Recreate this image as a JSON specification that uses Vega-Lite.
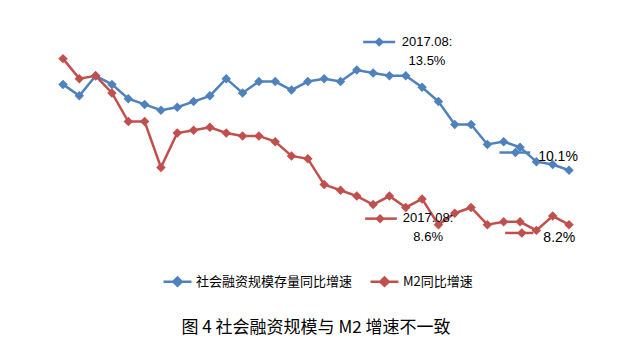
{
  "$schema": "https://vega.github.io/schema/vega-lite/v6.json",
  "width": 506,
  "height": 229,
  "autosize": {"type": "none"},
  "padding": {"left": 63, "top": 30, "right": 70, "bottom": 94},
  "background": "white",
  "config": {"view": {"stroke": null}, "font": "Liberation Sans"},
  "title": {"text": "图 4  社会融资规模与 M2 增速不一致", "orient": "bottom", "anchor": "middle", "font": "Noto Sans CJK SC", "fontSize": 17, "fontWeight": "normal", "color": "#000000", "offset": 29, "frame": "group"},
  "datasets": {
    "series": [
      {"i": 0, "date": "2016.01", "series": "社会融资规模存量同比增速", "value": 13.1},
      {"i": 1, "date": "2016.02", "series": "社会融资规模存量同比增速", "value": 12.7},
      {"i": 2, "date": "2016.03", "series": "社会融资规模存量同比增速", "value": 13.4},
      {"i": 3, "date": "2016.04", "series": "社会融资规模存量同比增速", "value": 13.1},
      {"i": 4, "date": "2016.05", "series": "社会融资规模存量同比增速", "value": 12.6},
      {"i": 5, "date": "2016.06", "series": "社会融资规模存量同比增速", "value": 12.4},
      {"i": 6, "date": "2016.07", "series": "社会融资规模存量同比增速", "value": 12.2},
      {"i": 7, "date": "2016.08", "series": "社会融资规模存量同比增速", "value": 12.3},
      {"i": 8, "date": "2016.09", "series": "社会融资规模存量同比增速", "value": 12.5},
      {"i": 9, "date": "2016.10", "series": "社会融资规模存量同比增速", "value": 12.7},
      {"i": 10, "date": "2016.11", "series": "社会融资规模存量同比增速", "value": 13.3},
      {"i": 11, "date": "2016.12", "series": "社会融资规模存量同比增速", "value": 12.8},
      {"i": 12, "date": "2017.01", "series": "社会融资规模存量同比增速", "value": 13.2},
      {"i": 13, "date": "2017.02", "series": "社会融资规模存量同比增速", "value": 13.2},
      {"i": 14, "date": "2017.03", "series": "社会融资规模存量同比增速", "value": 12.9},
      {"i": 15, "date": "2017.04", "series": "社会融资规模存量同比增速", "value": 13.2},
      {"i": 16, "date": "2017.05", "series": "社会融资规模存量同比增速", "value": 13.3},
      {"i": 17, "date": "2017.06", "series": "社会融资规模存量同比增速", "value": 13.2},
      {"i": 18, "date": "2017.07", "series": "社会融资规模存量同比增速", "value": 13.6},
      {"i": 19, "date": "2017.08", "series": "社会融资规模存量同比增速", "value": 13.5},
      {"i": 20, "date": "2017.09", "series": "社会融资规模存量同比增速", "value": 13.4},
      {"i": 21, "date": "2017.10", "series": "社会融资规模存量同比增速", "value": 13.4},
      {"i": 22, "date": "2017.11", "series": "社会融资规模存量同比增速", "value": 13.0},
      {"i": 23, "date": "2017.12", "series": "社会融资规模存量同比增速", "value": 12.5},
      {"i": 24, "date": "2018.01", "series": "社会融资规模存量同比增速", "value": 11.7},
      {"i": 25, "date": "2018.02", "series": "社会融资规模存量同比增速", "value": 11.7},
      {"i": 26, "date": "2018.03", "series": "社会融资规模存量同比增速", "value": 11.0},
      {"i": 27, "date": "2018.04", "series": "社会融资规模存量同比增速", "value": 11.1},
      {"i": 28, "date": "2018.05", "series": "社会融资规模存量同比增速", "value": 10.9},
      {"i": 29, "date": "2018.06", "series": "社会融资规模存量同比增速", "value": 10.4},
      {"i": 30, "date": "2018.07", "series": "社会融资规模存量同比增速", "value": 10.3},
      {"i": 31, "date": "2018.08", "series": "社会融资规模存量同比增速", "value": 10.1},
      {"i": 0, "date": "2016.01", "series": "M2同比增速", "value": 14.0},
      {"i": 1, "date": "2016.02", "series": "M2同比增速", "value": 13.3},
      {"i": 2, "date": "2016.03", "series": "M2同比增速", "value": 13.4},
      {"i": 3, "date": "2016.04", "series": "M2同比增速", "value": 12.8},
      {"i": 4, "date": "2016.05", "series": "M2同比增速", "value": 11.8},
      {"i": 5, "date": "2016.06", "series": "M2同比增速", "value": 11.8},
      {"i": 6, "date": "2016.07", "series": "M2同比增速", "value": 10.2},
      {"i": 7, "date": "2016.08", "series": "M2同比增速", "value": 11.4},
      {"i": 8, "date": "2016.09", "series": "M2同比增速", "value": 11.5},
      {"i": 9, "date": "2016.10", "series": "M2同比增速", "value": 11.6},
      {"i": 10, "date": "2016.11", "series": "M2同比增速", "value": 11.4},
      {"i": 11, "date": "2016.12", "series": "M2同比增速", "value": 11.3},
      {"i": 12, "date": "2017.01", "series": "M2同比增速", "value": 11.3},
      {"i": 13, "date": "2017.02", "series": "M2同比增速", "value": 11.1},
      {"i": 14, "date": "2017.03", "series": "M2同比增速", "value": 10.6},
      {"i": 15, "date": "2017.04", "series": "M2同比增速", "value": 10.5},
      {"i": 16, "date": "2017.05", "series": "M2同比增速", "value": 9.6},
      {"i": 17, "date": "2017.06", "series": "M2同比增速", "value": 9.4},
      {"i": 18, "date": "2017.07", "series": "M2同比增速", "value": 9.2},
      {"i": 19, "date": "2017.08", "series": "M2同比增速", "value": 8.9},
      {"i": 20, "date": "2017.09", "series": "M2同比增速", "value": 9.2},
      {"i": 21, "date": "2017.10", "series": "M2同比增速", "value": 8.8},
      {"i": 22, "date": "2017.11", "series": "M2同比增速", "value": 9.1},
      {"i": 23, "date": "2017.12", "series": "M2同比增速", "value": 8.2},
      {"i": 24, "date": "2018.01", "series": "M2同比增速", "value": 8.6},
      {"i": 25, "date": "2018.02", "series": "M2同比增速", "value": 8.8},
      {"i": 26, "date": "2018.03", "series": "M2同比增速", "value": 8.2},
      {"i": 27, "date": "2018.04", "series": "M2同比增速", "value": 8.3},
      {"i": 28, "date": "2018.05", "series": "M2同比增速", "value": 8.3},
      {"i": 29, "date": "2018.06", "series": "M2同比增速", "value": 8.0},
      {"i": 30, "date": "2018.07", "series": "M2同比增速", "value": 8.5},
      {"i": 31, "date": "2018.08", "series": "M2同比增速", "value": 8.2}
    ],
    "keys": [
      {"series": "社会融资规模存量同比增速", "x1": 18.39, "x2": 20.35, "xk": 19.37, "y": 14.58},
      {"series": "M2同比增速", "x1": 18.51, "x2": 20.45, "xk": 19.43, "y": 8.41},
      {"series": "社会融资规模存量同比增速", "x1": 26.74, "x2": 28.62, "xk": 27.72, "y": 10.72},
      {"series": "M2同比增速", "x1": 27.09, "x2": 28.82, "xk": 28.11, "y": 7.91}
    ],
    "labels": [
      {"kind": "date", "label": "2017.08:", "x": 22.3, "y": 14.57},
      {"kind": "date", "label": "13.5%", "x": 22.3, "y": 13.92},
      {"kind": "date", "label": "2017.08:", "x": 22.37, "y": 8.42},
      {"kind": "date", "label": "8.6%", "x": 22.37, "y": 7.77},
      {"kind": "end", "label": "10.1%", "x": 29.11, "y": 10.56},
      {"kind": "end", "label": "8.2%", "x": 29.43, "y": 7.75}
    ]
  },
  "layer": [
    {
      "data": {"name": "series"},
      "mark": {"type": "line", "strokeWidth": 2.5},
      "encoding": {
        "x": {"field": "i", "type": "quantitative", "scale": {"domain": [0, 31], "nice": false, "zero": false}, "axis": null},
        "y": {"field": "value", "type": "quantitative", "scale": {"domain": [7, 15], "nice": false, "zero": false}, "axis": null},
        "color": {
          "field": "series", "type": "nominal",
          "scale": {"domain": ["社会融资规模存量同比增速", "M2同比增速"], "range": ["#4F81BD", "#C0504D"]},
          "legend": {
            "orient": "none", "legendX": 99, "legendY": 236, "direction": "horizontal", "title": null,
            "symbolType": "M-1,0L1,0M-0.3,0L0,-0.3L0.3,0L0,0.3Z", "symbolSize": 784, "symbolStrokeWidth": 2.5,
            "labelFont": "Noto Sans CJK SC", "labelFontSize": 13, "labelColor": "#000000", "labelOffset": 3, "columnPadding": 12
          }
        }
      }
    },
    {
      "data": {"name": "series"},
      "mark": {"type": "point", "shape": "diamond", "filled": true, "size": 90, "opacity": 1},
      "encoding": {
        "x": {"field": "i", "type": "quantitative", "scale": {"domain": [0, 31], "nice": false, "zero": false}},
        "y": {"field": "value", "type": "quantitative", "scale": {"domain": [7, 15], "nice": false, "zero": false}},
        "color": {"field": "series", "type": "nominal"}
      }
    },
    {
      "data": {"name": "keys"},
      "mark": {"type": "rule", "strokeWidth": 2.5},
      "encoding": {
        "x": {"field": "x1", "type": "quantitative", "scale": {"domain": [0, 31], "nice": false, "zero": false}},
        "x2": {"field": "x2"},
        "y": {"field": "y", "type": "quantitative", "scale": {"domain": [7, 15], "nice": false, "zero": false}},
        "color": {"field": "series", "type": "nominal"}
      }
    },
    {
      "data": {"name": "keys"},
      "mark": {"type": "point", "shape": "diamond", "filled": true, "size": 90, "opacity": 1},
      "encoding": {
        "x": {"field": "xk", "type": "quantitative", "scale": {"domain": [0, 31], "nice": false, "zero": false}},
        "y": {"field": "y", "type": "quantitative", "scale": {"domain": [7, 15], "nice": false, "zero": false}},
        "color": {"field": "series", "type": "nominal"}
      }
    },
    {
      "data": {"name": "labels"},
      "transform": [{"filter": "datum.kind === 'date'"}],
      "mark": {"type": "text", "font": "Liberation Sans", "fontSize": 13, "align": "center", "baseline": "middle", "color": "#000000"},
      "encoding": {
        "x": {"field": "x", "type": "quantitative", "scale": {"domain": [0, 31], "nice": false, "zero": false}},
        "y": {"field": "y", "type": "quantitative", "scale": {"domain": [7, 15], "nice": false, "zero": false}},
        "text": {"field": "label"}
      }
    },
    {
      "data": {"name": "labels"},
      "transform": [{"filter": "datum.kind === 'end'"}],
      "mark": {"type": "text", "font": "Liberation Sans", "fontSize": 14, "align": "left", "baseline": "middle", "color": "#000000"},
      "encoding": {
        "x": {"field": "x", "type": "quantitative", "scale": {"domain": [0, 31], "nice": false, "zero": false}},
        "y": {"field": "y", "type": "quantitative", "scale": {"domain": [7, 15], "nice": false, "zero": false}},
        "text": {"field": "label"}
      }
    }
  ]
}
